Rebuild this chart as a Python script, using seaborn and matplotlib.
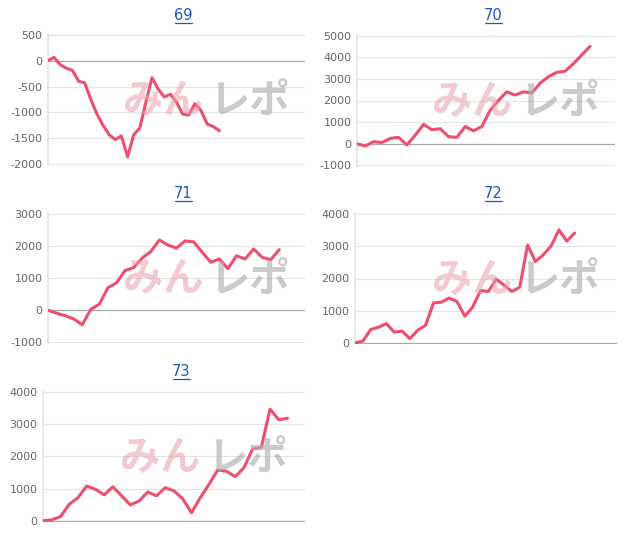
import matplotlib
matplotlib.use("Agg")
import matplotlib.pyplot as plt
import seaborn as sns
import numpy as np
from matplotlib.lines import Line2D

sns.set_theme(style="white")
plt.rcParams['font.family'] = ['DejaVu Sans', 'Noto Sans CJK JP']

titles = ["69", "70", "71", "72", "73"]
s69 = [0, 60, -80, -150, -190, -400, -430, -750, -1030, -1250, -1430, -1520, -1450, -1850,
       -1430, -1300, -800, -330, -550, -700, -650, -800, -1030, -1050, -830, -960, -1220, -1270, -1350]
s70 = [0, -100, 100, 60, 250, 300, -50, 400, 900, 650, 700, 330, 300, 800, 600, 800, 1550,
       2000, 2400, 2250, 2400, 2350, 2800, 3100, 3300, 3350, 3700, 4100, 4500]
s71 = [0, -90, -170, -270, -450, 30, 190, 700, 850, 1230, 1320, 1620, 1820, 2180, 2020, 1930,
       2150, 2120, 1800, 1490, 1590, 1290, 1690, 1590, 1900, 1640, 1570, 1880]
s72 = [20, 70, 430, 500, 610, 350, 380, 150, 410, 560, 1250, 1270, 1400, 1290, 840, 1120, 1630,
       1600, 1980, 1800, 1600, 1730, 3030, 2520, 2730, 3000, 3500, 3150, 3400]
s73 = [20, 50, 150, 530, 730, 1090, 990, 820, 1070, 790, 510, 630, 910, 790, 1040, 940, 700,
       270, 730, 1140, 1580, 1550, 1380, 1650, 2230, 2290, 3460, 3130, 3180]
series = [s69, s70, s71, s72, s73]
xslots = [42, 31, 30, 33.4, 30]
yticks = [np.arange(-2000, 501, 500), np.arange(-1000, 5001, 1000), np.arange(-1000, 3001, 1000),
          np.arange(0, 4001, 1000), np.arange(0, 4001, 1000)]

W, H = 618, 534
boxes = [(48, 305, 34, 165), (357, 615, 35, 166), (48, 305, 213, 343),
         (355, 617, 213, 344), (43, 305, 391, 522)]
title_y = [16, 16, 194, 194, 372]

fig = plt.figure(figsize=(W / 100, H / 100), dpi=100)
for i, (t, s, ns, yt, b, ty) in enumerate(zip(titles, series, xslots, yticks, boxes, title_y)):
    l, r, tp, bt = b
    ax = fig.add_axes([l / W, 1 - bt / H, (r - l) / W, (bt - tp) / H])
    x = np.arange(len(s))
    cx = (l + r) / 2 + 30
    cy = (tp + bt) / 2 + 2
    fig.text((cx - 3) / W, 1 - cy / H, "みん", color="#e8a0a8", alpha=0.55, fontsize=29,
             fontweight="bold", style="italic", ha="right", va="center",
             family=['Noto Sans CJK JP'])
    fig.text((cx + 3) / W, 1 - cy / H, "レポ", color="#b0b0b0", alpha=0.65, fontsize=29,
             fontweight="bold", style="italic", ha="left", va="center",
             family=['Noto Sans CJK JP'])
    sns.lineplot(x=x, y=s, ax=ax, color="#ee4f6e", linewidth=2.2, zorder=3)
    ax.set_xlim(0, ns)
    span = yt[-1] - yt[0]
    ax.set_ylim(yt[0] - span * 0.004, yt[-1] + span * 0.004)
    ax.set_yticks(yt)
    ax.set_yticklabels([str(v) for v in yt], fontsize=8, color="#666666")
    ax.set_xticks([])
    ax.grid(axis="y", color="#e4e4e4", linewidth=0.8)
    ax.axhline(0, color="#aaaaaa", linewidth=0.9, zorder=1)
    for sp in ["top", "right", "bottom"]:
        ax.spines[sp].set_visible(False)
    ax.spines["left"].set_color("#e4e4e4")
    ax.tick_params(axis="y", length=0, pad=4)
    ax.patch.set_alpha(0)
    tx = (l + r) / 2 + 7
    fig.text(tx / W, 1 - ty / H, t, color="#1a56c4", fontsize=10.5, ha="center", va="center")
    fig.add_artist(Line2D([(tx - 8.5) / W, (tx + 8.5) / W], [1 - (ty + 7) / H] * 2,
                          color="#1a56c4", linewidth=0.9))

fig.savefig("out.png", dpi=100)
